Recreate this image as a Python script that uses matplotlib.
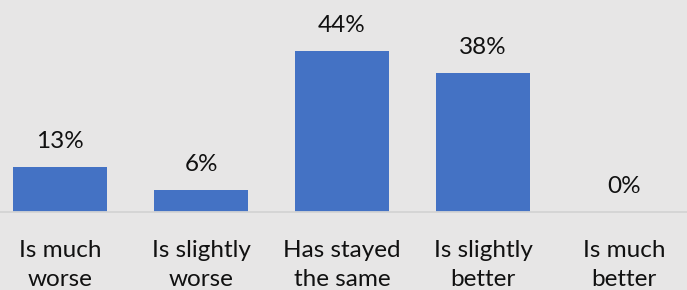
import matplotlib.pyplot as plt

categories = ["Is much\nworse", "Is slightly\nworse", "Has stayed\nthe same",
              "Is slightly\nbetter", "Is much\nbetter"]
values = [12.4, 6, 44, 38, 0]
labels = ["13%", "6%", "44%", "38%", "0%"]

bg = "#E7E6E6"
plt.rcParams['font.family'] = ['Lato', 'DejaVu Sans']

fig = plt.figure(figsize=(6.87, 2.90), dpi=100, facecolor=bg)
ax = fig.add_axes([0, 78 / 290, 1, 212 / 290], facecolor=bg)

x = list(range(len(categories)))
bars = ax.bar(x, values, width=0.667, color="#4472C4", zorder=2)

for b, lab in zip(bars, labels):
    ax.annotate(lab, (b.get_x() + b.get_width() / 2, b.get_height()),
                xytext=(0, 15), textcoords="offset pixels",
                ha="center", va="bottom", fontsize=17.5, color="#111111")

ax.set_xlim(-60 / 141, 4 + 63 / 141)
ax.set_ylim(0, 57.8)
ax.set_yticks([])
ax.set_xticks(x, categories)
ax.tick_params(axis="x", length=0, pad=20.5, labelsize=17.5, labelcolor="#111111")
for lab in ax.get_xticklabels():
    lab.set_linespacing(1.45)

for s in ["top", "left", "right"]:
    ax.spines[s].set_visible(False)
ax.spines["bottom"].set_color("#D4D4D4")
ax.spines["bottom"].set_linewidth(1.3)

fig.savefig("out.png", dpi=100, facecolor=bg)
